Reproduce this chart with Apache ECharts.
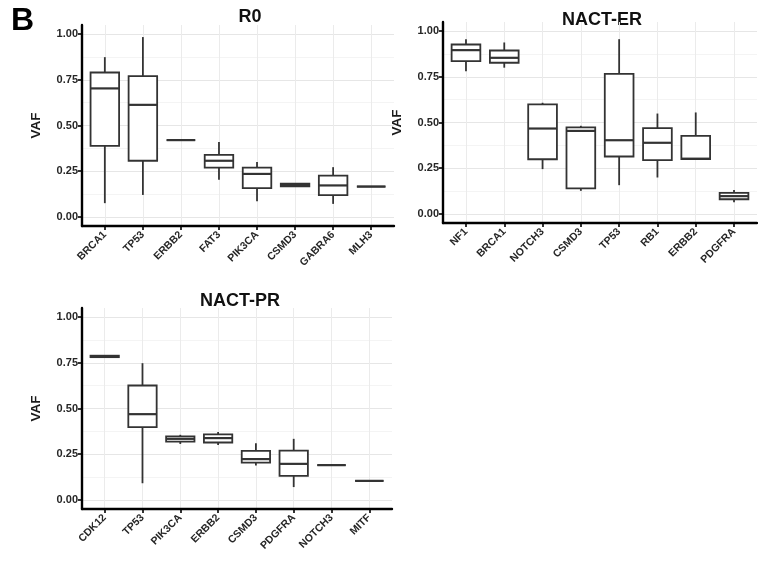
<!DOCTYPE html>
<html><head><meta charset="utf-8">
<script src="https://cdn.jsdelivr.net/npm/echarts@6/dist/echarts.min.js"></script>
<style>html,body{margin:0;padding:0;background:#fff}#c{width:758px;height:566px}</style>
</head><body><div id="c"></div>
<script>
// ---- data: [min, Q1, median, Q3, max] per gene ----
const r0Genes = ['BRCA1','TP53','ERBB2','FAT3','PIK3CA','CSMD3','GABRA6','MLH3'];
const r0Stats = [
  [0.075,0.389,0.703,0.790,0.874],
  [0.120,0.307,0.613,0.770,0.984],
  [0.420,0.420,0.420,0.420,0.420],
  [0.203,0.270,0.307,0.339,0.410],
  [0.086,0.157,0.235,0.270,0.300],
  [0.165,0.167,0.175,0.182,0.185],
  [0.071,0.119,0.172,0.226,0.272],
  [0.166,0.166,0.166,0.166,0.166]
];
const erGenes = ['NF1','BRCA1','NOTCH3','CSMD3','TP53','RB1','ERBB2','PDGFRA'];
const erStats = [
  [0.781,0.836,0.896,0.927,0.956],
  [0.800,0.827,0.854,0.894,0.938],
  [0.245,0.299,0.467,0.599,0.608],
  [0.126,0.139,0.454,0.473,0.482],
  [0.157,0.314,0.403,0.766,0.956],
  [0.199,0.294,0.389,0.469,0.549],
  [0.300,0.300,0.302,0.427,0.555],
  [0.064,0.080,0.097,0.115,0.130]
];
const prGenes = ['CDK12','TP53','PIK3CA','ERBB2','CSMD3','PDGFRA','NOTCH3','MITF'];
const prStats = [
  [0.780,0.781,0.785,0.789,0.790],
  [0.091,0.398,0.469,0.626,0.748],
  [0.306,0.319,0.334,0.347,0.356],
  [0.300,0.314,0.338,0.358,0.372],
  [0.188,0.204,0.223,0.268,0.310],
  [0.070,0.131,0.197,0.270,0.334],
  [0.190,0.190,0.190,0.190,0.190],
  [0.104,0.104,0.104,0.104,0.104]
];
const yTicks = [0, 0.25, 0.5, 0.75, 1];
const yMinor = [0.125, 0.375, 0.625, 0.875];
const panelTitles = ['R0', 'NACT-ER', 'NACT-PR'];

const FONT = '"Liberation Sans", Arial, sans-serif';
const panels = [
  {genes: r0Genes, stats: r0Stats, grid: {left: 82, top: 25, width: 312, height: 201}},
  {genes: erGenes, stats: erStats, grid: {left: 443, top: 22, width: 314, height: 201}},
  {genes: prGenes, stats: prStats, grid: {left: 82, top: 308, width: 310, height: 201}}
];

const BOX_COLOR = '#333333';
function renderBox(params, api) {
  const x = api.value(0);
  const lo = api.coord([x, api.value(1)]);
  const q1 = api.coord([x, api.value(2)]);
  const md = api.coord([x, api.value(3)]);
  const q3 = api.coord([x, api.value(4)]);
  const hi = api.coord([x, api.value(5)]);
  const w = api.size([0.75, 0])[0];
  const cx = lo[0], x0 = cx - w / 2, x1 = cx + w / 2;
  const st = {stroke: BOX_COLOR, lineWidth: 1.8, fill: null};
  return {
    type: 'group',
    children: [
      {type: 'line', shape: {x1: cx, y1: lo[1], x2: cx, y2: q1[1]}, style: st},
      {type: 'line', shape: {x1: cx, y1: q3[1], x2: cx, y2: hi[1]}, style: st},
      {type: 'rect', shape: {x: x0, y: q3[1], width: w, height: q1[1] - q3[1]},
        style: {stroke: BOX_COLOR, lineWidth: 1.8, fill: '#ffffff'}},
      {type: 'line', shape: {x1: x0, y1: md[1], x2: x1, y2: md[1]}, style: {stroke: BOX_COLOR, lineWidth: 2.2}}
    ]
  };
}

const grids = [], xAxes = [], yAxes = [], series = [];
panels.forEach((p, i) => {
  grids.push(Object.assign({containLabel: false}, p.grid));
  const catIdx = p.genes.map((g, k) => k + 1);
  xAxes.push({
    type: 'value', gridIndex: i, min: 0.4, max: 8.6,
    axisLine: {show: true, onZero: false, lineStyle: {color: '#000', width: 2.4}},
    axisTick: {show: true, customValues: catIdx, length: 4, lineStyle: {color: '#000', width: 1.6}},
    axisLabel: {show: true, customValues: catIdx, rotate: 45, margin: 7,
      formatter: v => p.genes[Math.round(v) - 1] || '',
      fontFamily: FONT, fontWeight: 'bold', fontSize: 10.5, color: '#262626'},
    splitLine: {show: true, lineStyle: {color: '#ebebeb', width: 1}}
  });
  yAxes.push({
    type: 'value', gridIndex: i, min: -0.05, max: 1.05,
    name: 'VAF', nameLocation: 'middle', nameGap: 39, nameRotate: 90,
    nameTextStyle: {fontFamily: FONT, fontWeight: 'bold', fontSize: 13.5, color: '#1a1a1a'},
    axisLine: {show: true, onZero: false, lineStyle: {color: '#000', width: 2.4}},
    axisTick: {show: true, customValues: yTicks, length: 4, lineStyle: {color: '#000', width: 1.6}},
    axisLabel: {show: true, customValues: yTicks, margin: 4, formatter: v => v.toFixed(2),
      fontFamily: FONT, fontWeight: 'bold', fontSize: 11, color: '#262626'},
    splitLine: {show: true, lineStyle: {color: '#e6e6e6', width: 1}}
  });
  yAxes.push({
    type: 'value', gridIndex: i, min: -0.05, max: 1.05, position: 'left',
    axisLine: {show: false}, axisLabel: {show: false},
    axisTick: {show: false, customValues: yMinor},
    splitLine: {show: true, lineStyle: {color: '#f4f4f4', width: 1}}
  });
  series.push({
    type: 'custom', xAxisIndex: i, yAxisIndex: i * 2,
    renderItem: renderBox, encode: {x: 0, y: [1, 2, 3, 4, 5]},
    data: p.stats.map((s, k) => [k + 1].concat(s)), z: 5
  });
});

const titleCenters = [[250, 17], [602, 20], [240, 301]];
const graphics = panelTitles.map((t, i) => ({
  type: 'text', x: titleCenters[i][0], y: titleCenters[i][1],
  style: {text: t, font: 'bold 18px ' + FONT, fill: '#111', textAlign: 'center', textVerticalAlign: 'middle'}
}));
graphics.push({type: 'text', x: 11, y: 21, style: {text: 'B', font: 'bold 32px ' + FONT, fill: '#000', textAlign: 'left', textVerticalAlign: 'middle'}});

const chart = echarts.init(document.getElementById('c'), null, {renderer: 'canvas'});
chart.setOption({
  animation: false, backgroundColor: '#fff',
  grid: grids, xAxis: xAxes, yAxis: yAxes, series: series, graphic: graphics
});
</script></body></html>
